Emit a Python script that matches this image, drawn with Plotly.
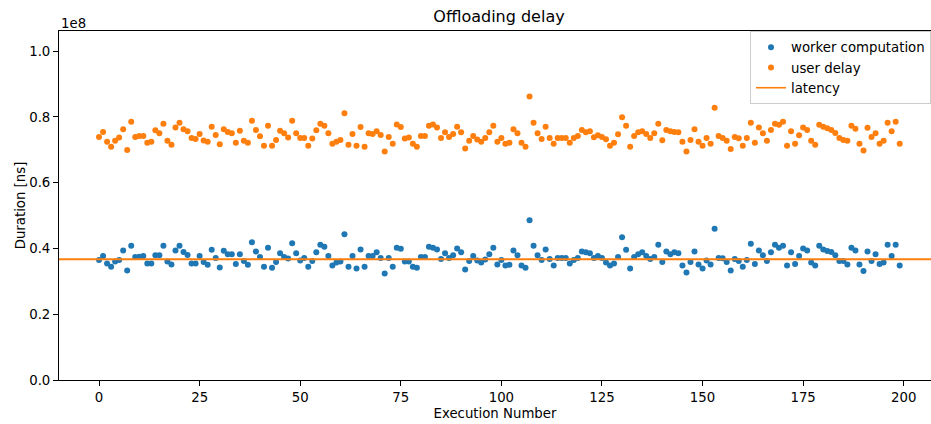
import plotly.graph_objects as go

# values in units of 1e8 ns
execution_number = list(range(200))

worker_computation = [
    0.365, 0.377, 0.354, 0.344, 0.360, 0.365, 0.394, 0.333, 0.408, 0.374,
    0.375, 0.377, 0.354, 0.354, 0.379, 0.379, 0.408, 0.360, 0.351, 0.394,
    0.408, 0.389, 0.380, 0.354, 0.354, 0.377, 0.359, 0.350, 0.396, 0.371,
    0.342, 0.393, 0.382, 0.382, 0.353, 0.382, 0.362, 0.350, 0.419, 0.391,
    0.374, 0.344, 0.402, 0.341, 0.359, 0.385, 0.374, 0.369, 0.416, 0.385,
    0.363, 0.371, 0.344, 0.362, 0.388, 0.411, 0.405, 0.377, 0.348, 0.357,
    0.360, 0.443, 0.344, 0.377, 0.339, 0.397, 0.344, 0.377, 0.377, 0.388,
    0.371, 0.324, 0.371, 0.344, 0.402, 0.399, 0.360, 0.360, 0.344, 0.341,
    0.374, 0.374, 0.405, 0.402, 0.397, 0.368, 0.385, 0.371, 0.379, 0.400,
    0.388, 0.336, 0.362, 0.377, 0.363, 0.357, 0.366, 0.382, 0.402, 0.351,
    0.365, 0.348, 0.350, 0.394, 0.379, 0.348, 0.341, 0.486, 0.408, 0.379,
    0.365, 0.397, 0.368, 0.348, 0.371, 0.371, 0.371, 0.354, 0.365, 0.371,
    0.391, 0.388, 0.385, 0.371, 0.377, 0.371, 0.357, 0.348, 0.354, 0.374,
    0.434, 0.396, 0.339, 0.374, 0.382, 0.388, 0.377, 0.368, 0.374, 0.411,
    0.359, 0.391, 0.382, 0.388, 0.385, 0.348, 0.327, 0.359, 0.391, 0.351,
    0.339, 0.363, 0.351, 0.460, 0.371, 0.370, 0.359, 0.333, 0.368, 0.362,
    0.344, 0.365, 0.414, 0.353, 0.394, 0.379, 0.362, 0.388, 0.411, 0.402,
    0.408, 0.348, 0.388, 0.353, 0.377, 0.400, 0.394, 0.357, 0.348, 0.408,
    0.397, 0.392, 0.389, 0.379, 0.362, 0.362, 0.351, 0.402, 0.394, 0.351,
    0.331, 0.391, 0.362, 0.382, 0.353, 0.357, 0.411, 0.377, 0.411, 0.348,
]

user_delay = [
    0.739, 0.754, 0.724, 0.709, 0.727, 0.737, 0.762, 0.699, 0.785, 0.739,
    0.742, 0.742, 0.721, 0.724, 0.759, 0.750, 0.779, 0.727, 0.715, 0.768,
    0.782, 0.762, 0.756, 0.736, 0.733, 0.748, 0.728, 0.724, 0.770, 0.745,
    0.717, 0.762, 0.754, 0.750, 0.721, 0.758, 0.727, 0.721, 0.788, 0.760,
    0.741, 0.712, 0.773, 0.712, 0.730, 0.758, 0.750, 0.737, 0.788, 0.750,
    0.736, 0.736, 0.712, 0.734, 0.759, 0.779, 0.773, 0.750, 0.718, 0.724,
    0.730, 0.811, 0.715, 0.748, 0.712, 0.769, 0.709, 0.750, 0.748, 0.756,
    0.745, 0.695, 0.739, 0.718, 0.777, 0.769, 0.734, 0.737, 0.718, 0.709,
    0.742, 0.742, 0.773, 0.777, 0.768, 0.736, 0.753, 0.739, 0.748, 0.770,
    0.753, 0.704, 0.727, 0.742, 0.731, 0.724, 0.736, 0.753, 0.773, 0.724,
    0.736, 0.718, 0.721, 0.762, 0.750, 0.721, 0.709, 0.862, 0.782, 0.750,
    0.733, 0.770, 0.736, 0.718, 0.736, 0.736, 0.736, 0.721, 0.736, 0.742,
    0.760, 0.753, 0.756, 0.738, 0.744, 0.739, 0.732, 0.712, 0.721, 0.747,
    0.799, 0.773, 0.709, 0.742, 0.753, 0.756, 0.748, 0.736, 0.750, 0.779,
    0.729, 0.760, 0.756, 0.754, 0.753, 0.724, 0.695, 0.730, 0.762, 0.724,
    0.712, 0.736, 0.718, 0.828, 0.742, 0.736, 0.727, 0.702, 0.739, 0.735,
    0.712, 0.736, 0.782, 0.721, 0.768, 0.750, 0.727, 0.760, 0.779, 0.776,
    0.785, 0.712, 0.756, 0.718, 0.744, 0.768, 0.760, 0.727, 0.715, 0.776,
    0.770, 0.765, 0.760, 0.751, 0.736, 0.730, 0.727, 0.773, 0.764, 0.718,
    0.698, 0.767, 0.739, 0.750, 0.718, 0.727, 0.782, 0.756, 0.785, 0.718,
]

latency = 0.367

y_ticks = [0.0, 0.2, 0.4, 0.6, 0.8, 1.0]
y_tick_labels = ["0.0", "0.2", "0.4", "0.6", "0.8", "1.0"]
x_ticks = [0, 25, 50, 75, 100, 125, 150, 175, 200]

BLUE = "#1f77b4"
ORANGE = "#ff7f0e"
FONT = "DejaVu Sans"
FS = 13.3

fig = go.Figure()
fig.add_trace(go.Scatter(x=execution_number, y=worker_computation, mode="markers",
                         name="worker computation",
                         marker=dict(color=BLUE, size=6, line=dict(width=0))))
fig.add_trace(go.Scatter(x=execution_number, y=user_delay, mode="markers",
                         name="user delay",
                         marker=dict(color=ORANGE, size=6, line=dict(width=0))))
fig.add_trace(go.Scatter(x=[None], y=[None], mode="lines", name="latency",
                         line=dict(color=ORANGE, width=1.6)))
fig.add_hline(y=latency, line=dict(color=ORANGE, width=2), layer="above")

fig.update_layout(
    width=931, height=424,
    margin=dict(l=59, r=0, t=31, b=44),
    paper_bgcolor="white", plot_bgcolor="white",
    font=dict(family=FONT, size=FS, color="black"),
    title=dict(text="Offloading delay", x=499 / 931, xanchor="center",
               y=1 - 16 / 424, yanchor="middle",
               font=dict(family=FONT, size=16, color="black")),
    showlegend=True,
    legend=dict(x=1, xanchor="right", y=1.0, yanchor="top",
                bgcolor="rgba(255,255,255,0.8)", bordercolor="#cccccc",
                borderwidth=1, font=dict(family=FONT, size=FS, color="black"),
                tracegroupgap=0),
    xaxis=dict(range=[-9.95, 206.78], tickvals=x_ticks, showgrid=False,
               zeroline=False, showline=True, linecolor="black", linewidth=1,
               mirror=True, ticks="outside", ticklen=5, tickcolor="black",
               tickwidth=1,
               title=dict(text="Execution Number", standoff=4,
                          font=dict(family=FONT, size=FS))),
    yaxis=dict(range=[0, 1.061], tickvals=y_ticks, ticktext=y_tick_labels,
               showgrid=False, zeroline=False, showline=True,
               linecolor="black", linewidth=1, mirror=False,
               ticks="outside", ticklen=5, tickcolor="black", tickwidth=1,
               title=dict(text="Duration [ns]", standoff=0,
                          font=dict(family=FONT, size=FS))),
)

fig.add_annotation(text="1e8", xref="paper", yref="paper", x=0, y=1,
                   xanchor="left", yanchor="bottom", yshift=-2, showarrow=False,
                   font=dict(family=FONT, size=FS, color="black"))

fig.write_html("out.html")
